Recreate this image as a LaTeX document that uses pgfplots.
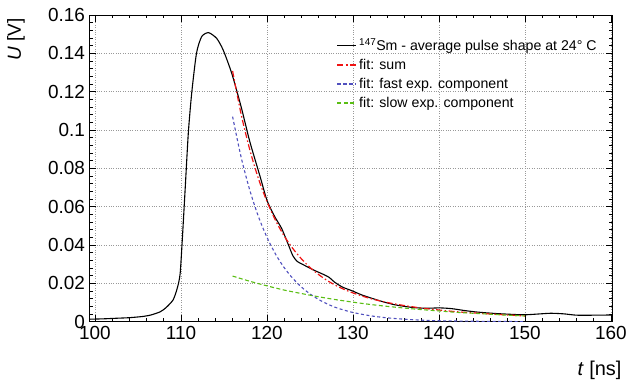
\documentclass[border=0pt]{standalone}
\usepackage{pgfplots}
\pgfplotsset{compat=1.18}
\usepackage{fontspec}
\setmainfont{Liberation Sans}
\usetikzlibrary{calc}
\definecolor{fitred}{RGB}{240,20,20}
\definecolor{fitblue}{RGB}{80,80,190}
\definecolor{fitgreen}{RGB}{90,190,20}
\begin{document}
\begin{tikzpicture}
\begin{axis}[
  name=ax,
  scale only axis,
  width=523.3bp, height=306.7bp,
  xmin=99.35, xmax=160.2, ymin=0, ymax=0.16,
  xtick={100,110,...,160}, ytick={0,0.02,...,0.16},
  minor x tick num=4, minor y tick num=4,
  tick align=inside,
  xtick pos=both, ytick pos=both,
  major tick length=7bp, minor tick length=3.5bp,
  every tick/.style={black, line width=0.6bp},
  axis line style={line width=0.9bp},
  grid=major,
  major grid style={dotted, gray!80, line width=0.7bp},
  /pgf/number format/assume math mode=true,
  ticklabel style={font=\fontsize{19}{21}\selectfont},
  yticklabel style={/pgf/number format/fixed, /pgf/number format/precision=2, xshift=-1bp},
  xticklabel style={/pgf/number format/fixed, yshift=-1.2bp},
  scaled y ticks=false,
  legend style={at={(rel axis cs:0.47,0.933)}, anchor=north west, draw=none, fill=none,
    font=\fontsize{14.2}{16}\selectfont, row sep=3.2bp, inner sep=1bp,
    legend cell align=left},
  clip=true,
]
\addplot[forget plot, black, line width=1.1bp, smooth, tension=0.4] coordinates {
(99.4,0.0013) (101,0.0015) (102.5,0.0018) (104,0.0021) (105.5,0.0027) (106.5,0.0035)
(107.6,0.0052) (108.3,0.0075) (109.1,0.0115) (109.6,0.018) (109.9,0.025) (110.15,0.0426)
(110.5,0.0704) (110.85,0.0983) (111.24,0.119) (111.8,0.140) (112.4,0.1487) (113.2,0.1508)
(114.15,0.1478) (114.9,0.1418) (115.9,0.1296) (117.0,0.112) (118.0,0.094) (119.2,0.0757)
(120.0,0.0633) (120.9,0.0548) (121.7,0.0487) (122.5,0.040) (123.0,0.0345) (123.5,0.0315)
(124.4,0.0293) (125.5,0.0268) (126.4,0.0250) (127.2,0.0232) (127.9,0.0205) (128.8,0.0180)
(129.85,0.0162) (131,0.0140) (132.2,0.0122) (133.5,0.0104) (134.9,0.0088) (136.8,0.0075)
(138.4,0.0070) (140.1,0.0072) (141.5,0.0068) (143,0.0058) (144.5,0.0050) (146.5,0.0043)
(148.6,0.0038) (150,0.0036) (151.5,0.0040) (153,0.0044) (154.5,0.0041) (156,0.0034)
(158,0.0034) (160,0.0035) (160.2,0.0035)
};
\addplot[forget plot, fitred, line width=1.2bp, dash pattern=on 6bp off 2.5bp on 1.5bp off 2.5bp, smooth] coordinates {
(116,0.1308) (117,0.1081) (118,0.0897) (119,0.0747) (120,0.0627) (121,0.0528) (122,0.0447)
(123,0.0382) (124,0.0328) (125,0.0283) (126,0.0246) (127,0.0215) (128,0.0189) (129,0.0168)
(130,0.0150) (132,0.0121) (134,0.0100) (136,0.0084) (138,0.0071) (140,0.0061) (142,0.0052)
(144,0.0046) (146,0.0040) (148,0.0035) (150,0.0030)
};
\addplot[forget plot, fitblue, line width=1.1bp, dash pattern=on 3bp off 2.5bp, smooth] coordinates {
(116,0.1070) (117,0.0857) (118,0.0686) (119,0.0549) (120,0.0440) (121,0.0352) (122,0.0282)
(123,0.0226) (124,0.0181) (125,0.0145) (126,0.0116) (127,0.0093) (128,0.0074) (129,0.0060)
(130,0.0048) (132,0.0031) (134,0.0020) (136,0.0013) (138,0.0008) (140,0.0005) (143,0.0003)
(146,0.00014) (150,0.00006)
};
\addplot[forget plot, fitgreen, line width=1.1bp, dash pattern=on 4bp off 2.5bp, smooth] coordinates {
(116,0.0238) (118,0.0211) (120,0.0187) (122,0.0165) (124,0.0147) (126,0.0130) (128,0.0115)
(130,0.0102) (132,0.0090) (134,0.0080) (136,0.0071) (138,0.0063) (140,0.0056) (142,0.0049)
(144,0.0044) (146,0.0039) (148,0.0034) (150,0.0030)
};
\addlegendimage{legend image code/.code={\draw[draw=black, line width=1.2bp] (0bp,0bp) -- (19bp,0bp);}}
\addlegendentry{\textsuperscript{147}Sm - average pulse shape at 24° C}
\addlegendimage{legend image code/.code={\draw[draw=fitred, line width=1.7bp, dash pattern=on 6bp off 2.5bp on 2bp off 2.5bp] (0bp,0bp) -- (19bp,0bp);}}
\addlegendentry{fit: sum}
\addlegendimage{legend image code/.code={\draw[draw=fitblue, line width=1.6bp, dash pattern=on 3.5bp off 2.5bp] (0bp,0bp) -- (19bp,0bp);}}
\addlegendentry{fit: fast exp. component}
\addlegendimage{legend image code/.code={\draw[draw=fitgreen, line width=1.6bp, dash pattern=on 4bp off 2.5bp] (0bp,0bp) -- (19bp,0bp);}}
\addlegendentry{fit: slow exp. component}
\end{axis}
\node[rotate=90, anchor=base east, font=\fontsize{19}{21}\selectfont] at ($(ax.north west)+(-68.4bp,0bp)$) {\textit{U} [V]};
\node[anchor=base east, font=\fontsize{20}{22}\selectfont] at ($(ax.south east)+(12.3bp,-53.3bp)$) {\textit{t} [ns]};
\pgfresetboundingbox
\useasboundingbox ($(ax.south west)+(-89.4bp,-61.3bp)$) rectangle ($(ax.north east)+(14.3bp,15bp)$);
\end{tikzpicture}
\end{document}
